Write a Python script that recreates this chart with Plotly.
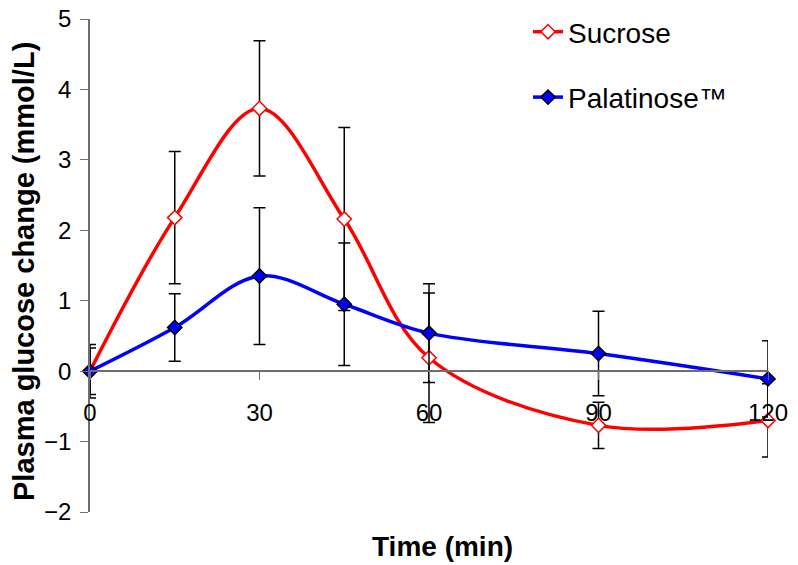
import plotly.graph_objects as go

time_min = [0, 15, 30, 45, 60, 90, 120]
sucrose = [0.0, 2.18, 3.73, 2.16, 0.19, -0.77, -0.70]
sucrose_err = [0.38, 0.94, 0.96, 1.30, 0.92, 0.33, 0.52]
palatinose = [0.0, 0.62, 1.35, 0.95, 0.54, 0.25, -0.11]
palatinose_err = [0.33, 0.48, 0.97, 0.87, 0.70, 0.60, 0.54]
x_ticks = [0, 30, 60, 90, 120]
y_ticks = [-2, -1, 0, 1, 2, 3, 4, 5]

FONT = "Arial, Liberation Sans, sans-serif"

fig = go.Figure()
fig.add_trace(go.Scatter(
    x=time_min, y=sucrose, name="Sucrose", legendgroup="a",
    mode="lines+markers", line=dict(color="#ff0000", width=3.5, shape="spline", smoothing=1),
    marker=dict(symbol="diamond", size=11, color="white", line=dict(color="#ff0000", width=1.5)),
    error_y=dict(type="data", array=sucrose_err, visible=True, color="black", thickness=1.5, width=6),
    cliponaxis=False,
))
fig.add_trace(go.Scatter(
    x=time_min, y=palatinose, name="Palatinose™", legendgroup="b",
    mode="lines+markers", line=dict(color="#0000ff", width=3.5, shape="spline", smoothing=1),
    marker=dict(symbol="diamond", size=11, color="#0000ff", line=dict(color="black", width=1.5)),
    error_y=dict(type="data", array=palatinose_err, visible=True, color="black", thickness=1.5, width=6),
    cliponaxis=False,
))

L, R, T, B = 90, 30, 19, 53
W, H = 798 - L - R, 565 - T - B

fig.update_layout(
    width=798, height=565,
    margin=dict(l=L, r=R, t=T, b=B, autoexpand=False),
    plot_bgcolor="white", paper_bgcolor="white",
    font=dict(family=FONT, size=24, color="black"),
    showlegend=True,
    legend=dict(x=(528 - L) / W, y=1.0 + 12 / H, xanchor="left", yanchor="top", font=dict(size=28),
                tracegroupgap=26, bgcolor="rgba(0,0,0,0)"),
    xaxis=dict(range=[0, 120], tickvals=x_ticks, ticktext=[str(v) for v in x_ticks],
               showgrid=False, zeroline=False, showline=True, linecolor="#6e6e6e", linewidth=1.5,
               ticks="outside", ticklen=8, tickcolor="#6e6e6e", ticklabelstandoff=12,
               anchor="free", position=2/7, tickfont=dict(size=24), automargin=False),
    yaxis=dict(range=[-2, 5], tickvals=y_ticks, showgrid=False, zeroline=False,
               showline=True, linecolor="#6e6e6e", linewidth=1.5, ticks="outside", ticklen=8,
               tickcolor="#6e6e6e", tickfont=dict(size=24), ticklabelstandoff=4, automargin=False),
    annotations=[
        dict(text="<b>Time (min)</b>", x=(442 - L) / W, y=(565 - B - 546) / H,
             xref="paper", yref="paper", xanchor="center", yanchor="middle",
             showarrow=False, font=dict(size=28)),
        dict(text="<b>Plasma glucose change (mmol/L)</b>", x=(24 - L) / W, y=(565 - B - 272) / H,
             xref="paper", yref="paper", xanchor="center", yanchor="middle",
             showarrow=False, font=dict(size=29), textangle=-90),
    ],
)

fig.write_html("out.html")
